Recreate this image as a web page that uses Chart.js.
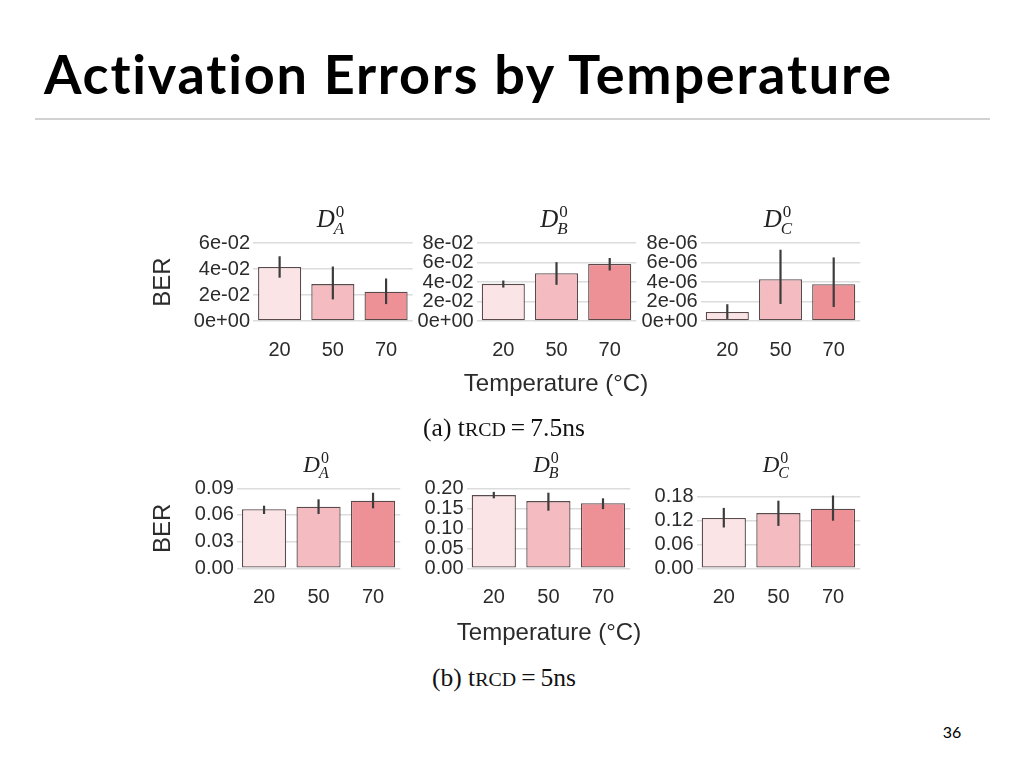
<!DOCTYPE html>
<html>
<head>
<meta charset="utf-8">
<script src="https://cdn.jsdelivr.net/npm/chart.js@4/dist/chart.umd.min.js"></script>
<style>
  body { margin: 0; width: 1024px; height: 768px; background: #fff; position: relative; overflow: hidden; }
  .slide-title { position: absolute; left: 44px; top: 42px; font: 700 54px Lato, sans-serif; letter-spacing: 1.8px; font-variant-ligatures: none; color: #000; line-height: 64px; white-space: nowrap; }
  .rule { position: absolute; left: 35px; top: 118px; width: 955px; height: 2px; background: #d2d2d2; }
  .caption { position: absolute; left: 304px; width: 400px; text-align: center; font: 25.5px "Liberation Serif", serif; color: #111; line-height: 30px; }
  .caption .sc { font-size: 0.78em; }
  .xtitle { position: absolute; width: 260px; text-align: center; font: 24px "Liberation Sans", Arial, sans-serif; color: #2b2b2b; line-height: 28px; white-space: nowrap; }
  .page { position: absolute; left: 932px; top: 722px; width: 40px; text-align: center; font: 16px Lato, sans-serif; color: #000; }
  canvas { position: absolute; }
</style>
</head>
<body>
<div class="slide-title">Activation Errors by Temperature</div>
<div class="rule"></div>
<canvas id="a0"></canvas><canvas id="a1"></canvas><canvas id="a2"></canvas>
<canvas id="b0"></canvas><canvas id="b1"></canvas><canvas id="b2"></canvas>
<div class="xtitle" style="left:426px; top:369px">Temperature (°C)</div>
<div class="xtitle" style="left:419px; top:618px">Temperature (°C)</div>
<div class="caption" style="top:413px">(a) t<span class="sc">RCD</span>&thinsp;=&thinsp;7.5ns</div>
<div class="caption" style="top:663px">(b) t<span class="sc">RCD</span>&thinsp;=&thinsp;5ns</div>
<div class="page">36</div>
<script>
// categories
const temps = ['20', '50', '70'];
const vendors = ['A', 'B', 'C'];

// (a) tRCD = 7.5ns : mean BER and error bar ends
const berA75 = [0.0416, 0.0284, 0.0225];
const lowA75 = [0.0333, 0.0166, 0.0130];
const highA75 = [0.0498, 0.0419, 0.0327];
const berB75 = [0.0381, 0.0491, 0.0584];
const lowB75 = [0.0343, 0.0371, 0.0518];
const highB75 = [0.0415, 0.0604, 0.0646];
const berC75 = [0.93e-6, 4.29e-6, 3.78e-6];
const lowC75 = [0.21e-6, 1.75e-6, 1.44e-6];
const highC75 = [1.72e-6, 7.31e-6, 6.52e-6];

// (b) tRCD = 5ns
const berA5 = [0.0664, 0.0693, 0.0760];
const lowA5 = [0.0611, 0.0611, 0.0675];
const highA5 = [0.0704, 0.0776, 0.0850];
const berB5 = [0.183, 0.168, 0.1625];
const lowB5 = [0.175, 0.144, 0.148];
const highB5 = [0.191, 0.189, 0.175];
const berC5 = [0.1256, 0.138, 0.149];
const lowC5 = [0.102, 0.106, 0.119];
const highC5 = [0.151, 0.169, 0.182];

// y ticks
const ticksA75 = [0, 0.02, 0.04, 0.06];
const labelsA75 = ['0e+00', '2e-02', '4e-02', '6e-02'];
const ticksB75 = [0, 0.02, 0.04, 0.06, 0.08];
const labelsB75 = ['0e+00', '2e-02', '4e-02', '6e-02', '8e-02'];
const ticksC75 = [0, 2e-6, 4e-6, 6e-6, 8e-6];
const labelsC75 = ['0e+00', '2e-06', '4e-06', '6e-06', '8e-06'];
const ticksA5 = [0, 0.03, 0.06, 0.09];
const labelsA5 = ['0.00', '0.03', '0.06', '0.09'];
const ticksB5 = [0, 0.05, 0.10, 0.15, 0.20];
const labelsB5 = ['0.00', '0.05', '0.10', '0.15', '0.20'];
const ticksC5 = [0, 0.06, 0.12, 0.18];
const labelsC5 = ['0.00', '0.06', '0.12', '0.18'];
const yMax75 = [0.06, 0.08, 8e-6];
const yMax5 = [0.09, 0.20, 0.20];

const barColors = ['#fbe4e6', '#f4bcc0', '#ee9197'];

// error bars drawn through the y scale
const errorBars = {
    id: 'errorBars',
    afterDatasetsDraw(chart, args, opts) {
        const ctx = chart.ctx;
        const y = chart.scales.y;
        const meta = chart.getDatasetMeta(0);
        ctx.save();
        ctx.strokeStyle = '#3c3c3c';
        ctx.lineWidth = 2.2;
        meta.data.forEach((bar, i) => {
            ctx.beginPath();
            ctx.moveTo(bar.x, y.getPixelForValue(opts.low[i]));
            ctx.lineTo(bar.x, y.getPixelForValue(opts.high[i]));
            ctx.stroke();
        });
        ctx.restore();
    }
};

// panel title D^0_X above the plot area
const panelTitle = {
    id: 'panelTitle',
    afterDraw(chart, args, opts) {
        const ctx = chart.ctx;
        const area = chart.chartArea;
        const size = opts.size;
        ctx.save();
        ctx.fillStyle = '#222';
        ctx.textBaseline = 'alphabetic';
        ctx.font = `italic ${size}px "Liberation Serif", serif`;
        const wD = ctx.measureText('D').width;
        const small = Math.round(size * 0.68);
        ctx.font = `italic ${small}px "Liberation Serif", serif`;
        const wS = ctx.measureText(opts.sub).width;
        const total = wD + wS;
        const x0 = (area.left + area.right) / 2 - total / 2 - 2;
        const base = area.top - 16;
        ctx.font = `italic ${size}px "Liberation Serif", serif`;
        ctx.fillText('D', x0, base);
        ctx.font = `${small}px "Liberation Serif", serif`;
        ctx.fillText('0', x0 + wD + 1, base - size * 0.42);
        ctx.font = `italic ${small}px "Liberation Serif", serif`;
        ctx.fillText(opts.sub, x0 + wD - 1, base + size * 0.26);
        ctx.restore();
    }
};

const panels = [
    { id: 'a0', ber: berA75, low: lowA75, high: highA75, ticks: ticksA75, labels: labelsA75, max: yMax75[0], sub: vendors[0], yTitle: 'BER',
      box: { left: 149, top: 195, width: 267, height: 202 }, plot: { yWidth: 104, xHeight: 76, top: 48, right: 3.3 }, titleSize: 25 },
    { id: 'a1', ber: berB75, low: lowB75, high: highB75, ticks: ticksB75, labels: labelsB75, max: yMax75[1], sub: vendors[1], yTitle: null,
      box: { left: 416, top: 195, width: 224, height: 202 }, plot: { yWidth: 60.7, xHeight: 76, top: 48, right: 3.7 }, titleSize: 25 },
    { id: 'a2', ber: berC75, low: lowC75, high: highC75, ticks: ticksC75, labels: labelsC75, max: yMax75[2], sub: vendors[2], yTitle: null,
      box: { left: 641, top: 195, width: 223, height: 202 }, plot: { yWidth: 59.7, xHeight: 76, top: 48, right: 3.7 }, titleSize: 25 },
    { id: 'b0', ber: berA5, low: lowA5, high: highA5, ticks: ticksA5, labels: labelsA5, max: yMax5[0], sub: vendors[0], yTitle: 'BER',
      box: { left: 149, top: 440, width: 255, height: 206 }, plot: { yWidth: 87.8, xHeight: 77.7, top: 48.3, right: 3.7 }, titleSize: 23 },
    { id: 'b1', ber: berB5, low: lowB5, high: highB5, ticks: ticksB5, labels: labelsB5, max: yMax5[1], sub: vendors[1], yTitle: null,
      box: { left: 418, top: 440, width: 216, height: 206 }, plot: { yWidth: 48.5, xHeight: 77.7, top: 48.3, right: 3.7 }, titleSize: 23 },
    { id: 'b2', ber: berC5, low: lowC5, high: highC5, ticks: ticksC5, labels: labelsC5, max: yMax5[2], sub: vendors[2], yTitle: null,
      box: { left: 648, top: 440, width: 216, height: 206 }, plot: { yWidth: 48.5, xHeight: 77.7, top: 48.3, right: 3.7 }, titleSize: 23 }
];

const sans = '"Liberation Sans", Arial, sans-serif';

panels.forEach(p => {
    const canvas = document.getElementById(p.id);
    canvas.width = p.box.width;
    canvas.height = p.box.height;
    canvas.style.left = p.box.left + 'px';
    canvas.style.top = p.box.top + 'px';

    new Chart(canvas.getContext('2d'), {
        type: 'bar',
        data: {
            labels: temps,
            datasets: [{
                data: p.ber,
                backgroundColor: barColors,
                borderColor: '#5a4a4b',
                borderWidth: 1.3,
                borderSkipped: false,
                barPercentage: 0.81,
                categoryPercentage: 1
            }]
        },
        options: {
            responsive: false,
            animation: false,
            layout: { padding: { left: 0, top: p.plot.top, right: p.plot.right, bottom: 0 } },
            plugins: {
                legend: { display: false },
                tooltip: { enabled: false },
                errorBars: { low: p.low, high: p.high },
                panelTitle: { sub: p.sub, size: p.titleSize }
            },
            scales: {
                x: {
                    grid: { display: false, drawTicks: false },
                    border: { display: false },
                    ticks: { color: '#2b2b2b', font: { family: sans, size: 20 }, padding: 17 },
                    afterFit: s => { s.height = p.plot.xHeight; }
                },
                y: {
                    min: 0,
                    max: p.max,
                    grid: { color: '#dcdcdc', lineWidth: 1.6, drawTicks: false },
                    border: { display: false },
                    ticks: {
                        color: '#2b2b2b',
                        font: { family: sans, size: 20 },
                        padding: 3,
                        autoSkip: false,
                        callback: (v, i) => p.labels[i]
                    },
                    afterBuildTicks: s => { s.ticks = p.ticks.map(v => ({ value: v })); },
                    title: { display: !!p.yTitle, text: p.yTitle || '', color: '#2b2b2b', font: { family: sans, size: 24 }, padding: 0 },
                    afterFit: s => { s.width = p.plot.yWidth; }
                }
            }
        },
        plugins: [errorBars, panelTitle]
    });
});
</script>
</body>
</html>
